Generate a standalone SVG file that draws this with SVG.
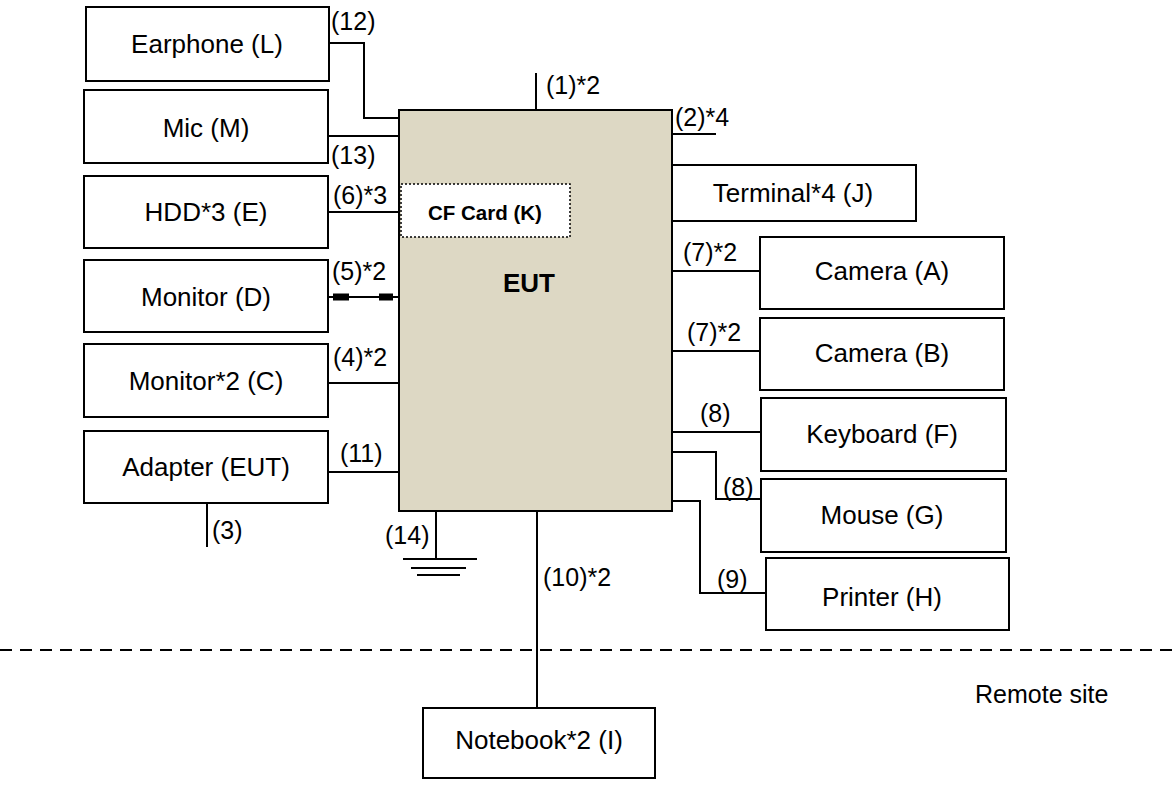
<svg xmlns="http://www.w3.org/2000/svg" width="1176" height="810" viewBox="0 0 1176 810">
<defs>
<style>
.box{fill:#fff;stroke:#000;stroke-width:2}
.eut{fill:#DDD8C4;stroke:#000;stroke-width:2}
.cf{fill:#fff;stroke:#000;stroke-width:1.5;stroke-dasharray:2 2}
.ln{fill:none;stroke:#000;stroke-width:2}
.t{font-family:"Liberation Sans",Arial,sans-serif;font-size:26px;fill:#000;text-anchor:middle}
.lb{font-family:"Liberation Sans",Arial,sans-serif;font-size:25px;fill:#000}
.b{font-family:"Liberation Sans",Arial,sans-serif;font-weight:bold;fill:#000;text-anchor:middle}
</style>
</defs>
<rect width="1176" height="810" fill="#fff"/>
<g id="connectors">
<polyline class="ln" points="329,43 364,43 364,118 399,118"/>
<line class="ln" x1="328" y1="136" x2="399" y2="136"/>
<line class="ln" x1="328" y1="212" x2="401" y2="212"/>
<line class="ln" x1="328" y1="297" x2="399" y2="297"/>
<rect x="333" y="293.5" width="16" height="7" fill="#000"/>
<rect x="379" y="293.5" width="14" height="7" fill="#000"/>
<line class="ln" x1="328" y1="383" x2="399" y2="383"/>
<line class="ln" x1="328" y1="472" x2="399" y2="472"/>
<line class="ln" x1="207" y1="503" x2="207" y2="547"/>
<line class="ln" x1="436" y1="511" x2="436" y2="559"/>
<line class="ln" x1="403" y1="559" x2="477" y2="559"/>
<line class="ln" x1="411" y1="568" x2="466" y2="568"/>
<line class="ln" x1="417" y1="575" x2="460" y2="575"/>
<line class="ln" x1="536" y1="73" x2="536" y2="110"/>
<line class="ln" x1="672" y1="134" x2="716" y2="134"/>
<line class="ln" x1="672" y1="271" x2="760" y2="271"/>
<line class="ln" x1="672" y1="351" x2="760" y2="351"/>
<line class="ln" x1="672" y1="432" x2="761" y2="432"/>
<polyline class="ln" points="672,452 716,452 716,499 761,499"/>
<polyline class="ln" points="672,501 700,501 700,593 766,593"/>
<line class="ln" x1="537" y1="511" x2="537" y2="708"/>
<line x1="0" y1="650" x2="1176" y2="650" stroke="#000" stroke-width="2" stroke-dasharray="12 8"/>
</g>
<g id="labels">
<text class="lb" x="331" y="30">(12)</text>
<text class="lb" x="331" y="164">(13)</text>
<text class="lb" x="333" y="204">(6)*3</text>
<text class="lb" x="332" y="280">(5)*2</text>
<text class="lb" x="333" y="366">(4)*2</text>
<text class="lb" x="340" y="462">(11)</text>
<text class="lb" x="212" y="539">(3)</text>
<text class="lb" x="385" y="544">(14)</text>
<text class="lb" x="546" y="94">(1)*2</text>
<text class="lb" x="675" y="126">(2)*4</text>
<text class="lb" x="683" y="261">(7)*2</text>
<text class="lb" x="687" y="341">(7)*2</text>
<text class="lb" x="700" y="422">(8)</text>
<text class="lb" x="723" y="496">(8)</text>
<text class="lb" x="717" y="588">(9)</text>
<text class="lb" x="543" y="586">(10)*2</text>
<text class="lb" x="975" y="703" font-size="26">Remote site</text>
</g>
<g id="eut">
<rect class="eut" x="399" y="110" width="273" height="401"/>
<text class="b" x="529" y="292" font-size="26">EUT</text>
</g>
<g id="cfcard">
<rect class="cf" x="401" y="184" width="169" height="53"/>
<text class="b" x="485" y="220" font-size="20.5">CF Card (K)</text>
</g>
<g id="earphone"><rect class="box" x="86" y="7" width="243" height="74"/><text class="t" x="207" y="53">Earphone (L)</text></g>
<g id="mic"><rect class="box" x="84" y="90" width="244" height="73"/><text class="t" x="206" y="137">Mic (M)</text></g>
<g id="hdd"><rect class="box" x="84" y="176" width="244" height="72"/><text class="t" x="206" y="221">HDD*3 (E)</text></g>
<g id="monitorD"><rect class="box" x="84" y="260" width="244" height="72"/><text class="t" x="206" y="306">Monitor (D)</text></g>
<g id="monitorC"><rect class="box" x="84" y="344" width="244" height="73"/><text class="t" x="206" y="390">Monitor*2 (C)</text></g>
<g id="adapter"><rect class="box" x="84" y="431" width="244" height="72"/><text class="t" x="206" y="476">Adapter (EUT)</text></g>
<g id="terminal"><rect class="box" x="672" y="165" width="244" height="56"/><text class="t" x="793" y="202">Terminal*4 (J)</text></g>
<g id="cameraA"><rect class="box" x="760" y="237" width="244" height="72"/><text class="t" x="882" y="280">Camera (A)</text></g>
<g id="cameraB"><rect class="box" x="760" y="318" width="244" height="72"/><text class="t" x="882" y="362">Camera (B)</text></g>
<g id="keyboard"><rect class="box" x="761" y="398" width="245" height="73"/><text class="t" x="882" y="443">Keyboard (F)</text></g>
<g id="mouse"><rect class="box" x="761" y="479" width="245" height="73"/><text class="t" x="882" y="524">Mouse (G)</text></g>
<g id="printer"><rect class="box" x="766" y="558" width="243" height="72"/><text class="t" x="882" y="606">Printer (H)</text></g>
<g id="notebook"><rect class="box" x="423" y="708" width="232" height="70"/><text class="t" x="539" y="749">Notebook*2 (I)</text></g>
</svg>
